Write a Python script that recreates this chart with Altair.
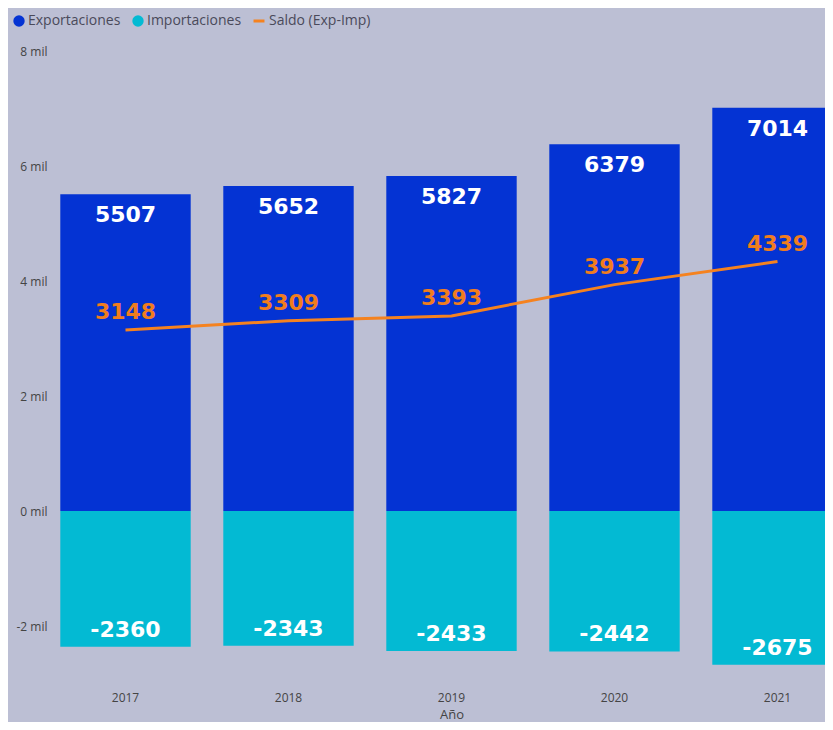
import altair as alt
import pandas as pd

years = ["2017", "2018", "2019", "2020", "2021"]
exportaciones = [5507, 5652, 5827, 6379, 7014]
importaciones = [-2360, -2343, -2433, -2442, -2675]
saldo = [3148, 3309, 3393, 3937, 4339]

series = ["Exportaciones", "Importaciones"]
bar_colors = ["#0433D3", "#03BAD3"]
line_name = "Saldo (Exp-Imp)"
line_color = "#F5821F"
bg = "#BCBFD4"
FONT = "Open Sans"

bars_df = pd.DataFrame(
    [{"Año": y, "Serie": series[0], "Valor": v} for y, v in zip(years, exportaciones)]
    + [{"Año": y, "Serie": series[1], "Valor": v} for y, v in zip(years, importaciones)]
)
exp_df = pd.DataFrame({"Año": years, "Valor": exportaciones})
exp_df["Etiqueta"] = exp_df["Valor"].astype(str)
imp_df = pd.DataFrame({"Año": years, "Valor": importaciones})
imp_df["Etiqueta"] = imp_df["Valor"].astype(str)
saldo_df = pd.DataFrame({"Año": years, "Saldo": saldo, "Serie": line_name})
saldo_df["Etiqueta"] = saldo_df["Saldo"].astype(str)

xscale = alt.Scale(domain=years, range=[-8, 807], paddingInner=0.2, paddingOuter=0.1)
yscale = alt.Scale(domain=[-2800, 8000], nice=False, zero=False)

x = alt.X("Año:N", scale=xscale, sort=years,
          axis=alt.Axis(title="Año", labelAngle=0, ticks=False, domain=False,
                        labelPadding=20, titlePadding=5, labelFont=FONT,
                        labelFontSize=12, labelColor="#444", titleFont=FONT,
                        titleFontSize=13, titleFontWeight="normal", titleColor="#444"))

bars = alt.Chart(bars_df).mark_bar(clip=True).encode(
    x=x,
    y=alt.Y("Valor:Q", scale=yscale, stack=None,
            axis=alt.Axis(title=None, values=[-2000, 0, 2000, 4000, 6000, 8000],
                          labelExpr="datum.value / 1000 + ' mil'",
                          grid=False, ticks=False, domain=False, labelPadding=5,
                          labelFont=FONT, labelFontSize=12, labelColor="#444")),
    color=alt.Color("Serie:N", scale=alt.Scale(domain=series, range=bar_colors),
                    legend=alt.Legend(title=None, orient="none", legendX=-40, legendY=-37,
                                      direction="horizontal", symbolType="circle",
                                      symbolSize=130, labelFont=FONT, labelFontSize=14,
                                      labelColor="#4a4a5a", labelOffset=2,
                                      columnPadding=10, symbolStrokeWidth=0)),
)

line = alt.Chart(saldo_df).mark_line(strokeWidth=3).encode(
    x=alt.X("Año:N", scale=xscale, sort=years),
    y=alt.Y("Saldo:Q", scale=yscale),
    stroke=alt.Stroke("Serie:N", scale=alt.Scale(domain=[line_name], range=[line_color]),
                      legend=alt.Legend(title=None, orient="none", legendX=200, legendY=-37,
                                        symbolType="stroke", symbolSize=120,
                                        symbolStrokeWidth=3, labelFont=FONT,
                                        labelFontSize=14, labelColor="#4a4a5a",
                                        labelOffset=3)),
)

lbl = dict(font="DejaVu Sans", fontSize=22, fontWeight="bold", baseline="middle", align="center")

exp_text = alt.Chart(exp_df).mark_text(color="white", dy=21, **lbl).encode(
    x=alt.X("Año:N", scale=xscale, sort=years), y=alt.Y("Valor:Q", scale=yscale), text="Etiqueta:N")
imp_text = alt.Chart(imp_df).mark_text(color="white", dy=-17, **lbl).encode(
    x=alt.X("Año:N", scale=xscale, sort=years), y=alt.Y("Valor:Q", scale=yscale), text="Etiqueta:N")
saldo_text = alt.Chart(saldo_df).mark_text(color="#F07D1E", dy=-18, **lbl).encode(
    x=alt.X("Año:N", scale=xscale, sort=years), y=alt.Y("Saldo:Q", scale=yscale), text="Etiqueta:N")

chart = alt.layer(bars, line, exp_text, imp_text, saldo_text).resolve_legend(
    color="independent", stroke="independent"
).properties(
    width=773, height=621,
    autosize=alt.AutoSizeParams(type="none"),
    padding={"left": 44, "top": 43, "right": 0, "bottom": 50},
    background=bg,
).configure_view(stroke=None)

chart.save("out.html", embed_options={"renderer": "svg", "actions": False})
